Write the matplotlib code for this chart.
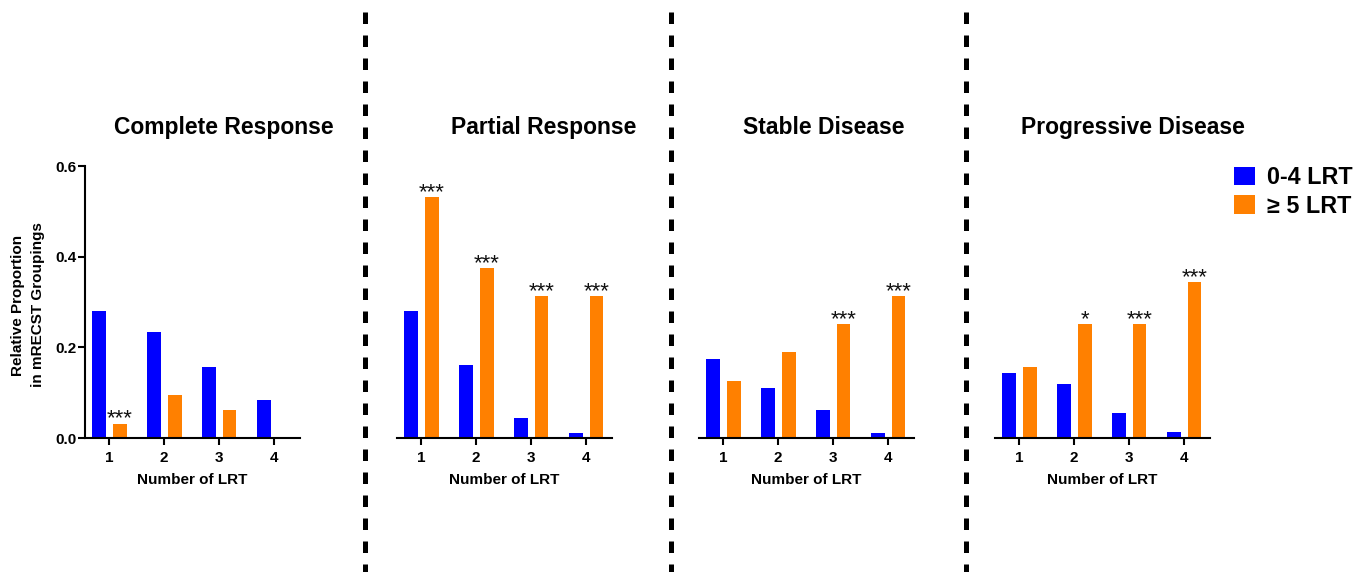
import matplotlib
matplotlib.use("Agg")
import matplotlib.pyplot as plt
from matplotlib.patches import Patch
from matplotlib.lines import Line2D

plt.rcParams['font.family'] = ['Liberation Sans', 'DejaVu Sans']

categories = [1, 2, 3, 4]
titles = ["Complete Response", "Partial Response", "Stable Disease", "Progressive Disease"]
series_names = ["0-4 LRT", "\u2265 5 LRT"]

cr_low = [0.281, 0.233, 0.156, 0.084]
cr_high = [0.031, 0.094, 0.062, 0.0]
pr_low = [0.281, 0.161, 0.044, 0.011]
pr_high = [0.531, 0.374, 0.313, 0.313]
sd_low = [0.174, 0.111, 0.062, 0.011]
sd_high = [0.126, 0.189, 0.251, 0.313]
pd_low = [0.144, 0.119, 0.055, 0.014]
pd_high = [0.156, 0.251, 0.251, 0.344]

cr_stars = ["***", "", "", ""]
pr_stars = ["***", "***", "***", "***"]
sd_stars = ["", "", "***", "***"]
pd_stars = ["", "*", "***", "***"]

yticks = [0.0, 0.2, 0.4, 0.6]
ytick_labels = ["0.0", "0.2", "0.4", "0.6"]

low_vals = [cr_low, pr_low, sd_low, pd_low]
high_vals = [cr_high, pr_high, sd_high, pd_high]
stars_all = [cr_stars, pr_stars, sd_stars, pd_stars]

BLUE = "#0000FF"
ORANGE = "#FF8000"

W, H = 1368, 572
fig = plt.figure(figsize=(W / 100, H / 100), dpi=100)

ax_left_px = [85, 397, 699, 995]
ax_w_px = 215
ax_bottom_px = 438
ax_top_px = 166
title_x_px = [224, 544, 824, 1133]
title_y_px = 127

width = 0.25
off = 0.19

for i in range(4):
    ax = fig.add_axes([ax_left_px[i] / W, (H - ax_bottom_px) / H,
                       ax_w_px / W, (ax_bottom_px - ax_top_px) / H])
    xs_low = [c - off for c in categories]
    xs_high = [c + off for c in categories]
    ax.bar(xs_low, low_vals[i], width=width, color=BLUE, linewidth=0)
    ax.bar(xs_high, high_vals[i], width=width, color=ORANGE, linewidth=0)
    for x, v, s in zip(xs_high, high_vals[i], stars_all[i]):
        if s:
            ax.annotate(s, (x, v), xytext=(0, -0.5), textcoords='offset points',
                        ha='center', va='baseline', fontsize=16, color='#111111')
    ax.set_xlim(0.56, 4.47)
    ax.set_ylim(0, 0.6)
    ax.set_xticks(categories)
    ax.set_xticklabels([str(c) for c in categories], fontsize=11, fontweight='bold')
    ax.tick_params(axis='x', length=5, width=1.5, pad=4)
    ax.set_xlabel("Number of LRT", fontsize=11, fontweight='bold', labelpad=6)
    for sp in ['top', 'right']:
        ax.spines[sp].set_visible(False)
    ax.spines['bottom'].set_linewidth(1.5)
    if i == 0:
        ax.spines['left'].set_linewidth(1.5)
        ax.set_yticks(yticks)
        ax.set_yticklabels(ytick_labels, fontsize=11, fontweight='bold')
        ax.tick_params(axis='y', length=5, width=1.5, pad=1)
    else:
        ax.spines['left'].set_visible(False)
        ax.set_yticks([])
    fig.text(title_x_px[i] / W, 1 - title_y_px / H, titles[i], ha='center', va='center',
             fontsize=16.5, fontweight='bold')

fig.text(28 / W, 1 - 305 / H, "Relative Proportion\nin mRECST Groupings", rotation=90,
         ha='center', va='center', fontsize=11, fontweight='bold', multialignment='center',
         linespacing=1.5)

# dashed separators
for xp in [365, 670.5, 966]:
    fig.add_artist(Line2D([xp / W, xp / W], [1 - 12 / H, 0], transform=fig.transFigure,
                          color='black', linewidth=3.6, dashes=(2.3, 2.3)))

handles = [Patch(facecolor=BLUE, edgecolor='none'), Patch(facecolor=ORANGE, edgecolor='none')]
fig.legend(handles, series_names, loc='upper left', bbox_to_anchor=(1234 / W, 1 - 166 / H),
           frameon=False, prop={'size': 16.8, 'weight': 'bold'}, handlelength=0.9,
           handleheight=0.85, handletextpad=0.5, labelspacing=0.25, borderpad=0,
           borderaxespad=0)

fig.savefig("out.png", dpi=100)
